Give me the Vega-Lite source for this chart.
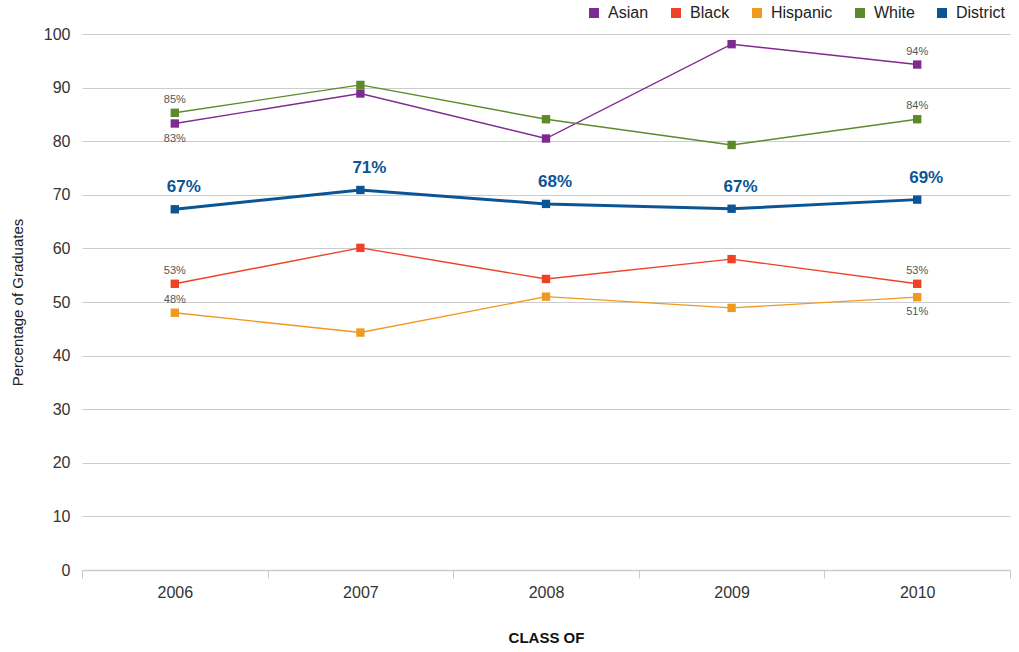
{
  "$schema": "https://vega.github.io/schema/vega-lite/v6.json",
  "width": 928,
  "height": 536,
  "autosize": {"type": "none"},
  "padding": {"left": 82, "top": 34, "right": 9, "bottom": 82},
  "background": "white",
  "config": {
    "font": "Liberation Sans",
    "view": {"stroke": null}
  },
  "data": {
    "values": [
      {"year": "2006", "group": "Asian", "value": 83.3, "label": "83%"},
      {"year": "2007", "group": "Asian", "value": 88.9, "label": ""},
      {"year": "2008", "group": "Asian", "value": 80.5, "label": ""},
      {"year": "2009", "group": "Asian", "value": 98.1, "label": ""},
      {"year": "2010", "group": "Asian", "value": 94.3, "label": "94%"},
      {"year": "2006", "group": "Black", "value": 53.4, "label": "53%"},
      {"year": "2007", "group": "Black", "value": 60.1, "label": ""},
      {"year": "2008", "group": "Black", "value": 54.3, "label": ""},
      {"year": "2009", "group": "Black", "value": 58.0, "label": ""},
      {"year": "2010", "group": "Black", "value": 53.4, "label": "53%"},
      {"year": "2006", "group": "Hispanic", "value": 48.0, "label": "48%"},
      {"year": "2007", "group": "Hispanic", "value": 44.3, "label": ""},
      {"year": "2008", "group": "Hispanic", "value": 51.0, "label": ""},
      {"year": "2009", "group": "Hispanic", "value": 48.9, "label": ""},
      {"year": "2010", "group": "Hispanic", "value": 50.9, "label": "51%"},
      {"year": "2006", "group": "White", "value": 85.3, "label": "85%"},
      {"year": "2007", "group": "White", "value": 90.5, "label": ""},
      {"year": "2008", "group": "White", "value": 84.1, "label": ""},
      {"year": "2009", "group": "White", "value": 79.3, "label": ""},
      {"year": "2010", "group": "White", "value": 84.1, "label": "84%"},
      {"year": "2006", "group": "District", "value": 67.3, "label": "67%"},
      {"year": "2007", "group": "District", "value": 70.9, "label": "71%"},
      {"year": "2008", "group": "District", "value": 68.3, "label": "68%"},
      {"year": "2009", "group": "District", "value": 67.4, "label": "67%"},
      {"year": "2010", "group": "District", "value": 69.1, "label": "69%"}
    ]
  },
  "encoding": {
    "x": {
      "field": "year",
      "type": "ordinal",
      "scale": {"type": "band", "paddingInner": 0, "paddingOuter": 0},
      "axis": {
        "title": "CLASS OF",
        "titleFontSize": 15,
        "titleFontWeight": "bold",
        "titleColor": "#111",
        "titlePadding": 30,
        "labelAngle": 0,
        "labelFontSize": 16,
        "labelColor": "#333",
        "labelPadding": 6,
        "tickBand": "extent",
        "tickColor": "#cccccc",
        "tickSize": 8,
        "domainColor": "#cccccc",
        "domainWidth": 1.5,
        "grid": false
      }
    },
    "y": {
      "field": "value",
      "type": "quantitative",
      "scale": {"domain": [0, 100], "nice": false},
      "axis": {
        "title": "Percentage of Graduates",
        "titleFontSize": 15,
        "titleFontWeight": "normal",
        "titleColor": "#222",
        "titlePadding": 18,
        "values": [0, 10, 20, 30, 40, 50, 60, 70, 80, 90, 100],
        "labelFontSize": 16,
        "labelColor": "#333",
        "labelPadding": 12,
        "ticks": false,
        "domain": false,
        "grid": true,
        "gridColor": "#cccccc",
        "gridWidth": 1
      }
    },
    "color": {
      "field": "group",
      "type": "nominal",
      "scale": {
        "domain": ["Asian", "Black", "Hispanic", "White", "District"],
        "range": ["#7f2a91", "#ee4226", "#f0991f", "#5d8a28", "#0b5596"]
      },
      "legend": {
        "title": null,
        "orient": "none",
        "direction": "horizontal",
        "legendX": 504,
        "legendY": -29,
        "symbolType": "square",
        "symbolSize": 100,
        "symbolStrokeWidth": 0,
        "symbolFillColor": "#000",
        "labelFontSize": 16,
        "labelColor": "#222",
        "labelOffset": 6,
        "columnPadding": 19
      }
    }
  },
  "layer": [
    {
      "transform": [{"filter": "datum.group !== 'District'"}],
      "mark": {"type": "line", "strokeWidth": 1.4}
    },
    {
      "transform": [{"filter": "datum.group === 'District'"}],
      "mark": {"type": "line", "strokeWidth": 3}
    },
    {
      "mark": {"type": "point", "shape": "square", "filled": true, "opacity": 1, "size": 70}
    },
    {
      "transform": [
        {"filter": "datum.group !== 'District' && datum.label !== ''"},
        {"filter": "!((datum.group === 'Asian' && datum.year === '2006') || (datum.group === 'Hispanic' && datum.year === '2010'))"}
      ],
      "mark": {"type": "text", "fontSize": 11, "dy": -13},
      "encoding": {"text": {"field": "label"}, "color": {"value": "#555"}}
    },
    {
      "transform": [
        {"filter": "(datum.group === 'Asian' && datum.year === '2006') || (datum.group === 'Hispanic' && datum.year === '2010')"}
      ],
      "mark": {"type": "text", "fontSize": 11, "dy": 15},
      "encoding": {"text": {"field": "label"}, "color": {"value": "#555"}}
    },
    {
      "transform": [{"filter": "datum.group === 'District'"}],
      "mark": {"type": "text", "fontSize": 17, "fontWeight": "bold", "dy": -22, "dx": 9},
      "encoding": {"text": {"field": "label"}, "color": {"value": "#0b5596"}}
    }
  ]
}
